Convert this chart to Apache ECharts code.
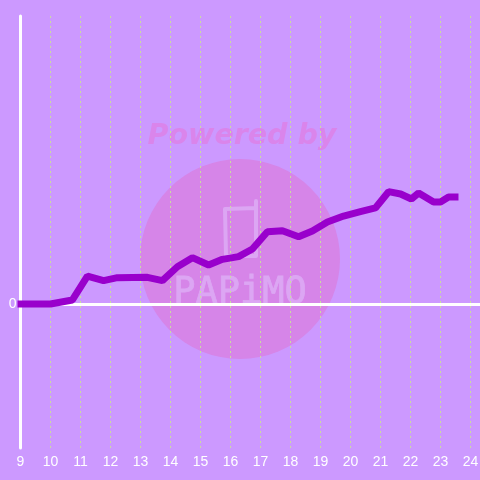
<!DOCTYPE html>
<html>
<head>
<meta charset="utf-8">
<style>
html, body { margin: 0; padding: 0; background: #cc99ff; }
#main { width: 480px; height: 480px; }
</style>
<script src="https://cdn.jsdelivr.net/npm/echarts@6/dist/echarts.min.js"></script>
</head>
<body>
<div id="main"></div>
<script>
var xValues = [8.9, 10, 10.73, 11.23, 11.77, 12.23, 13.23, 13.73, 14.23, 14.73, 15.27, 15.73, 16.27, 16.73, 17.23, 17.73, 18.27, 18.73, 19.23, 19.77, 20.33, 20.83, 21.27, 21.67, 22.03, 22.27, 22.77, 23, 23.27, 23.6];
var yValues = [0, 0, 0.028, 0.194, 0.162, 0.183, 0.185, 0.162, 0.259, 0.322, 0.271, 0.31, 0.329, 0.382, 0.502, 0.509, 0.467, 0.507, 0.569, 0.611, 0.641, 0.667, 0.78, 0.764, 0.729, 0.771, 0.708, 0.708, 0.743, 0.743];
var xTicks = [9, 10, 11, 12, 13, 14, 15, 16, 17, 18, 19, 20, 21, 22, 23, 24];
var yLabels = ['0'];

var points = xValues.map(function (x, i) { return [x, yValues[i]]; });

var myChart = echarts.init(document.getElementById('main'));
var option = {
    backgroundColor: '#cc99ff',
    animation: false,
    grid: { left: 20.5, right: 0, top: 16, bottom: 32, containLabel: false, outerBoundsMode: 'none' },
    xAxis: {
        type: 'value',
        min: 9,
        max: 24.3167,
        interval: 1,
        axisLine: { show: true, onZero: true, lineStyle: { color: '#ffffff', width: 3 } },
        axisTick: { show: false },
        axisLabel: {
            color: '#ffffff',
            fontFamily: 'Liberation Sans',
            fontSize: 14,
            margin: 7,
            hideOverlap: false,
            customValues: xTicks
        },
        splitLine: {
            show: true,
            showMinLine: false,
            showMaxLine: false,
            lineStyle: { color: '#c9dd9e', type: [2, 3], width: 1 }
        }
    },
    yAxis: {
        type: 'value',
        min: -1,
        max: 2,
        interval: 1,
        axisLine: { show: true, onZero: false, lineStyle: { color: '#ffffff', width: 3 } },
        axisTick: { show: false },
        axisLabel: {
            color: '#ffffff',
            fontFamily: 'Liberation Sans',
            fontSize: 14,
            margin: 4,
            padding: [3, 0, 0, 0],
            formatter: function (v) { return yLabels.indexOf(String(v)) >= 0 ? String(v) : ''; }
        },
        splitLine: { show: false }
    },
    graphic: [
        { type: 'circle', z: -10, shape: { cx: 240, cy: 259, r: 100 }, style: { fill: '#d685e8' } },
        { type: 'text', z: -9, x: 242, y: 137, style: { text: 'Powered by', fill: '#da85eb', font: 'italic bold 28.5px "DejaVu Sans"', align: 'center', verticalAlign: 'middle' } },
        { type: 'polyline', z: -9, shape: { points: [[256, 201], [256, 256], [226, 256], [225, 209], [256, 208]] }, style: { fill: null, stroke: '#dca6f3', lineWidth: 4, lineJoin: 'round', lineCap: 'round' } },
        { type: 'text', z: -9, x: 240, y: 293, style: { text: 'PAPiMO', fill: '#dca6f3', stroke: '#dca6f3', lineWidth: 0.8, font: '37px "DejaVu Sans Mono"', align: 'center', verticalAlign: 'middle' } }
    ],
    series: [
        {
            type: 'line',
            data: points,
            showSymbol: false,
            symbol: 'none',
            clip: false,
            smooth: false,
            lineStyle: { color: '#9900cc', width: 7, join: 'bevel', cap: 'butt' }
        }
    ]
};
myChart.setOption(option);
</script>
</body>
</html>
